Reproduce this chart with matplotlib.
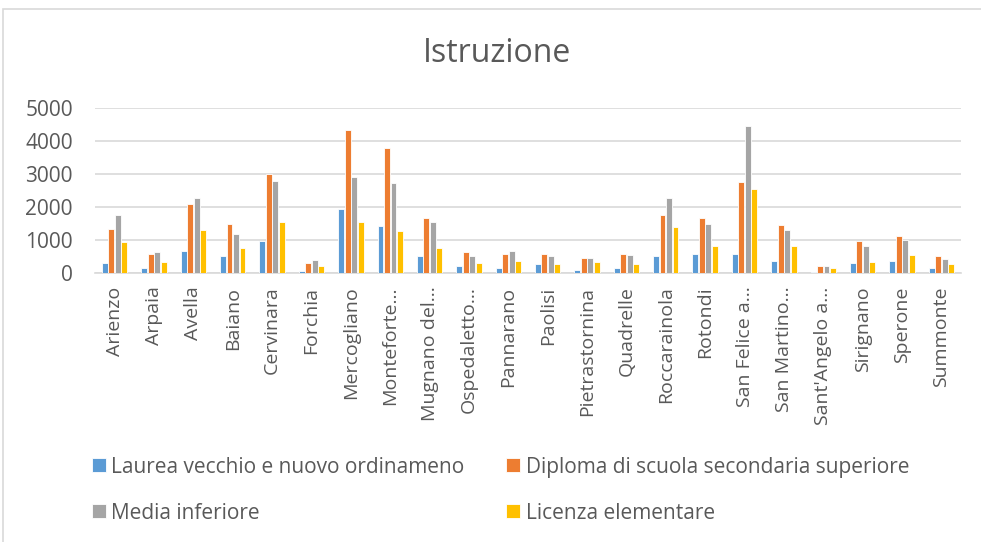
import matplotlib
matplotlib.use("Agg")
import matplotlib.pyplot as plt
import numpy as np
from matplotlib.patches import Rectangle

categories = ["Arienzo", "Arpaia", "Avella", "Baiano", "Cervinara", "Forchia",
              "Mercogliano", "Monteforte…", "Mugnano del…", "Ospedaletto…",
              "Pannarano", "Paolisi", "Pietrastornina", "Quadrelle",
              "Roccarainola", "Rotondi", "San Felice a…", "San Martino…",
              "Sant'Angelo a…", "Sirignano", "Sperone", "Summonte"]

laurea = [294, 132, 659, 517, 963, 51, 1937, 1430, 517, 193, 132, 254, 71, 152,
          497, 578, 578, 355, 30, 294, 355, 152]
diploma = [1329, 578, 2099, 1470, 3012, 294, 4331, 3803, 1653, 639, 558, 558, 456,
           578, 1755, 1653, 2748, 1450, 193, 963, 1126, 517]
media = [1755, 639, 2282, 1166, 2789, 396, 2911, 2728, 1552, 517, 659, 517, 436,
         538, 2262, 1491, 4452, 1288, 213, 801, 984, 416]
licenza = [943, 314, 1288, 761, 1531, 213, 1552, 1268, 761, 294, 355, 254, 335,
           274, 1389, 821, 2546, 821, 132, 335, 538, 254]

series_names = ["Laurea vecchio e nuovo ordinameno",
                "Diploma di scuola secondaria superiore",
                "Media inferiore", "Licenza elementare"]
colors = ["#5B9BD5", "#ED7D31", "#A5A5A5", "#FFC000"]
yticks = [0, 1000, 2000, 3000, 4000, 5000]

plt.rcParams['font.family'] = ['Open Sans', 'DejaVu Sans']
text_color = "#595959"

fig = plt.figure(figsize=(9.81, 5.42), dpi=100)
fig.patches.append(Rectangle((3/981, -0.1), 1.2, 1 - 9/542 + 0.1,
                             transform=fig.transFigure, fill=False,
                             edgecolor="#d9d9d9", linewidth=1.2))

ax = fig.add_axes([95/981, 1 - 272.7/542, (961 - 95)/981, (272.7 - 108.3)/542])

x = np.arange(len(categories))
slot = 0.165
bw = 0.15
handles = []
for i, (vals, c) in enumerate(zip([laurea, diploma, media, licenza], colors)):
    off = (i - 1.5) * slot
    b = ax.bar(x + off, vals, width=bw, color=c, edgecolor="white", linewidth=0.6,
               label=series_names[i], zorder=3)
    handles.append(b)

ax.set_xlim(-0.5, len(categories) - 0.5)
ax.set_ylim(0, 5000)
ax.set_yticks(yticks)
ax.set_yticklabels([str(v) for v in yticks], fontsize=15, color=text_color)
ax.set_xticks(x)
ax.set_xticklabels(categories, rotation=90, fontsize=14, color=text_color)
ax.tick_params(axis='both', length=0)
ax.tick_params(axis='y', pad=16)
ax.tick_params(axis='x', pad=10)
ax.grid(axis='y', color="#d9d9d9", linewidth=1.2, zorder=0)
for s in ["top", "right", "left"]:
    ax.spines[s].set_visible(False)
ax.spines["bottom"].set_color("#d9d9d9")
ax.spines["bottom"].set_linewidth(1.2)

fig.text(497/981, 1 - 53/542, "Istruzione", ha="center", va="center",
         fontsize=23, color=text_color)

order = [0, 2, 1, 3]
leg = fig.legend([handles[i] for i in order], [series_names[i] for i in order],
                 ncol=2, loc="upper left", bbox_to_anchor=(77/981, 1 - 442/542),
                 frameon=False, fontsize=15, handlelength=0.67, handleheight=0.67,
                 handletextpad=0.27, columnspacing=2.0, labelspacing=1.2,
                 labelcolor=text_color, borderpad=0.2)

fig.savefig("out.png", dpi=100)
